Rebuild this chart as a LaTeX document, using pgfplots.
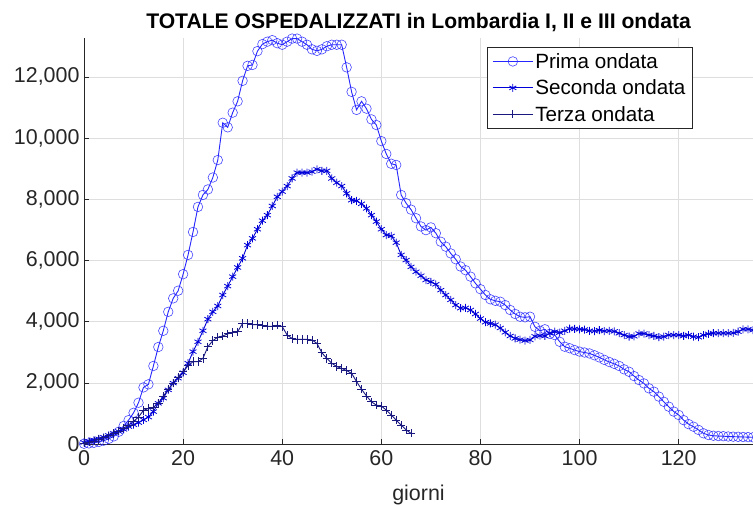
\documentclass[border=0pt]{standalone}
\usepackage{fontspec}
\setmainfont{Liberation Sans}
\usepackage{pgfplots}
\usepackage{pgfplotstable}
\pgfplotsset{compat=1.18}

\definecolor{cprima}{rgb}{0.15,0.15,1}
\definecolor{cseconda}{rgb}{0,0,0.85}
\definecolor{cterza}{rgb}{0.1,0.1,0.5}
\definecolor{axgray}{rgb}{0.15,0.15,0.15}
\definecolor{gridgray}{rgb}{0.87,0.87,0.87}

% giorno, ospedalizzati
\pgfplotstableread{
d v
0 10
1 20
2 40
3 70
4 110
5 170
6 250
7 400
8 590
9 780
10 1020
11 1350
12 1850
13 1950
14 2550
15 3170
16 3700
17 4320
18 4760
19 5010
20 5550
21 6180
22 6930
23 7750
24 8140
25 8320
26 8710
27 9280
28 10500
29 10350
30 10830
31 11200
32 11870
33 12360
34 12390
35 12840
36 13070
37 13150
38 13200
39 13100
40 13050
41 13150
42 13250
43 13250
44 13150
45 13050
46 12900
47 12850
48 12900
49 13000
50 13050
51 13050
52 13050
53 12310
54 11510
55 10920
56 11200
57 10960
58 10610
59 10425
60 9900
61 9480
62 9160
63 9120
64 8140
65 7870
66 7660
67 7380
68 7110
69 6990
70 7080
71 6890
72 6610
73 6450
74 6230
75 6040
76 5800
77 5680
78 5470
79 5250
80 5060
81 4870
82 4730
83 4680
84 4650
85 4540
86 4380
87 4250
88 4160
89 4140
90 4160
91 3830
92 3700
93 3750
94 3600
95 3560
96 3340
97 3180
98 3130
99 3070
100 3020
101 2990
102 2960
103 2900
104 2830
105 2750
106 2680
107 2620
108 2550
109 2440
110 2360
111 2220
112 2090
113 1980
114 1820
115 1710
116 1550
117 1380
118 1220
119 1060
120 950
121 780
122 650
123 565
124 460
125 350
126 295
127 270
128 260
129 255
130 245
131 240
132 235
133 230
134 225
135 220
}\prima

\pgfplotstableread{
d v
0 50
1 90
2 130
3 170
4 220
5 280
6 350
7 410
8 480
9 570
10 630
11 700
12 790
13 880
14 1060
15 1330
16 1500
17 1770
18 1990
19 2150
20 2330
21 2640
22 3020
23 3340
24 3700
25 4080
26 4320
27 4510
28 4870
29 5160
30 5470
31 5770
32 6070
33 6500
34 6720
35 7020
36 7300
37 7480
38 7780
39 8080
40 8250
41 8430
42 8680
43 8870
44 8870
45 8870
46 8900
47 8980
48 8930
49 8930
50 8680
51 8540
52 8430
53 8190
54 7970
55 7950
56 7850
57 7700
58 7480
59 7270
60 7020
61 6830
62 6800
63 6580
64 6180
65 6010
66 5790
67 5630
68 5500
69 5360
70 5300
71 5220
72 5030
73 4870
74 4710
75 4540
76 4440
77 4450
78 4380
79 4250
80 4100
81 3980
82 3940
83 3900
84 3790
85 3650
86 3530
87 3450
88 3410
89 3380
90 3400
91 3520
92 3540
93 3530
94 3620
95 3670
96 3640
97 3700
98 3770
99 3760
100 3750
101 3740
102 3700
103 3690
104 3720
105 3690
106 3700
107 3680
108 3620
109 3560
110 3510
111 3520
112 3610
113 3610
114 3560
115 3530
116 3490
117 3510
118 3560
119 3560
120 3560
121 3530
122 3560
123 3510
124 3490
125 3560
126 3600
127 3620
128 3620
129 3620
130 3620
131 3630
132 3670
133 3750
134 3750
135 3720
}\seconda

\pgfplotstableread{
d v
0 30
1 60
2 100
3 150
4 200
5 270
6 340
7 420
8 520
9 620
10 740
11 880
12 1100
13 1160
14 1200
15 1330
16 1560
17 1790
18 1990
19 2180
20 2360
21 2560
22 2690
23 2690
24 2800
25 3180
26 3380
27 3490
28 3530
29 3600
30 3640
31 3670
32 3940
33 3940
34 3900
35 3900
36 3880
37 3850
38 3850
39 3880
40 3840
41 3560
42 3450
43 3420
44 3420
45 3420
46 3400
47 3290
48 2980
49 2800
50 2640
51 2530
52 2470
53 2400
54 2310
55 2040
56 1790
57 1570
58 1380
59 1270
60 1240
61 1110
62 950
63 780
64 620
65 460
66 350
}\terza

\begin{document}
\begin{tikzpicture}
\useasboundingbox (-84bp,-62bp) rectangle (669bp,444bp);
\begin{axis}[
  at={(0,0)}, anchor=south west,
  scale only axis,
  width=669bp, height=406bp,
  xmin=0, xmax=135, ymin=0, ymax=13270,
  axis x line*=bottom, axis y line*=left,
  axis line style={axgray, line width=0.6bp},
  xtick={0,20,...,120},
  ytick={0,2000,...,12000},
  scaled y ticks=false,
  tick align=inside,
  major tick length=5bp,
  tick style={axgray, line width=0.6bp},
  grid=major,
  major grid style={gridgray, line width=0.6bp},
  /pgf/number format/.cd, 1000 sep={,}, assume math mode=true,
  /pgfplots/.cd,
  tick label style={font=\fontsize{21.5}{25}\selectfont, text=axgray},
  xticklabel style={yshift=-3bp},
  yticklabel style={xshift=-1bp},
  title={TOTALE OSPEDALIZZATI in Lombardia I, II e III ondata},
  title style={at={(rel axis cs:0.5,1)}, anchor=base, yshift=4bp, inner sep=0pt,
    font=\bfseries\fontsize{21.2}{25}\selectfont},
  xlabel={giorni},
  xlabel style={at={(rel axis cs:0.5,0)}, anchor=base, yshift=-56bp, inner sep=0pt,
    font=\fontsize{21.5}{25}\selectfont, text=axgray},
  legend style={at={(rel axis cs:0.910,0.978)}, anchor=north east,
    draw=axgray, line width=0.6bp, fill=white,
    font=\fontsize{20.7}{25}\selectfont, row sep=6bp,
    inner xsep=5bp, inner ysep=4bp},
  legend cell align=left,
  legend image code/.code={
    \draw[mark repeat=2, mark phase=2] plot coordinates {(0bp,0bp) (20bp,0bp) (40bp,0bp)};
  },
]
\addplot[cprima, line width=0.9bp, mark=o, mark size=4.8bp,
  mark options={line width=0.6bp, draw opacity=0.85}] table[x=d, y=v] {\prima};
\addlegendentry{Prima ondata}
\addplot[cseconda, line width=0.9bp, mark=asterisk, mark size=4bp,
  mark options={line width=0.8bp}] table[x=d, y=v] {\seconda};
\addlegendentry{Seconda ondata}
\addplot[cterza, line width=0.9bp, mark=+, mark size=4.2bp,
  mark options={line width=0.8bp}] table[x=d, y=v] {\terza};
\addlegendentry{Terza ondata}
\end{axis}
\end{tikzpicture}
\end{document}
